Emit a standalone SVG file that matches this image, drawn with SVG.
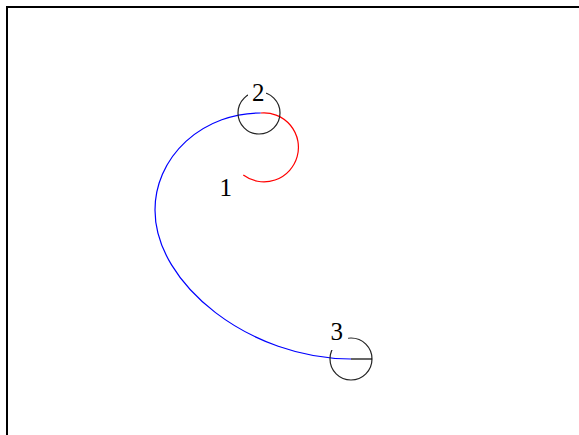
<svg xmlns="http://www.w3.org/2000/svg" width="579" height="435" viewBox="0 0 579 435">
<style>
.node{fill:none;stroke:#222;stroke-width:1.2}
.lbl{font-family:"Liberation Serif","Times New Roman",serif;font-size:25px;fill:#000;text-anchor:middle}
.mask{fill:#fff;stroke:none}
.blue{fill:none;stroke:#0000ff;stroke-width:1.2}
.red{fill:none;stroke:#ff0000;stroke-width:1.2}
</style>
<rect x="0" y="0" width="579" height="435" fill="#fff"/>
<rect x="7" y="7" width="600" height="460" fill="none" stroke="#000" stroke-width="2"/>
<g id="connectors">
<path class="red" d="M260.7,113 A34.5,34.5 0 1 1 243.3,175"/>
<path class="blue" d="M260.7,113 A105.7,97 0 0 0 155,210 C155,285 251,359 351,359"/>
</g>
<g id="node1">
<text class="lbl" x="225.7" y="196">1</text>
</g>
<g id="node2">
<circle class="node" cx="259" cy="113" r="21"/>
<rect class="mask" x="248" y="78" width="18" height="18"/>
<text class="lbl" x="258.3" y="101">2</text>
</g>
<g id="node3">
<circle class="node" cx="351" cy="359" r="21"/>
<line x1="351" y1="359" x2="372" y2="359" stroke="#000" stroke-width="1.2"/>
<rect class="mask" x="329" y="318" width="19" height="32"/>
<text class="lbl" x="336.7" y="340">3</text>
</g>
</svg>
